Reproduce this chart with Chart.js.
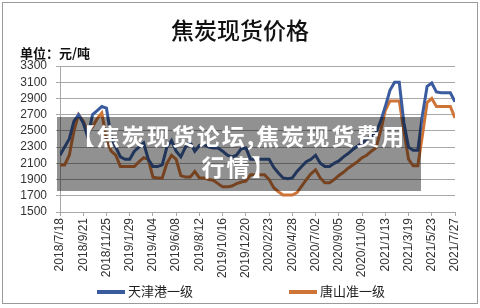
<!DOCTYPE html>
<html>
<head>
<meta charset="utf-8">
<script src="https://cdn.jsdelivr.net/npm/chart.js@4.4.1/dist/chart.umd.min.js"></script>
<style>
    html, body { margin: 0; padding: 0; background: #fff; }
    #wrap { position: relative; width: 480px; height: 308px; overflow: hidden; }
    #chart { position: absolute; left: 0; top: 0; }
    .frame { position: absolute; left: 2px; top: 2px; width: 474px; height: 300px; border: 1px solid #9a9a9a; pointer-events: none; }
    .title { position: absolute; left: 0; width: 480px; top: 12px; text-align: center; font: 500 23px "Noto Sans CJK SC"; color: #111; }
    .unit { position: absolute; left: 20px; top: 43px; font: 700 13px "Noto Sans CJK SC"; color: #111; }
    .legend { position: absolute; top: 281px; font: 13px "Noto Sans CJK SC"; color: #222; }
    .legend i { display: inline-block; width: 28px; height: 4px; vertical-align: middle; margin-right: 3px; }
    .mark { position: absolute; left: 57px; top: 117px; width: 364px; height: 74px; background: rgba(0, 0, 0, 0.43);
            color: #fff; font: 700 23px "Noto Sans CJK SC"; line-height: 31px; text-align: center; letter-spacing: 2px; padding-top: 3px; box-sizing: border-box; white-space: nowrap; }
</style>
</head>
<body>
<div id="wrap">
    <canvas id="chart" width="480" height="308"></canvas>
    <div class="title">焦炭现货价格</div>
    <div class="unit">单位：元/吨</div>
    <div class="mark">【焦炭现货论坛,焦炭现货费用<br>行情】</div>
    <div id="legend"></div>
    <div class="frame"></div>
</div>
<script>
// date labels on the x axis (one every 5 points)
const tickLabels = ['2018/7/18', '2018/9/21', '2018/11/25', '2019/1/29', '2019/4/04', '2019/6/08',
    '2019/8/12', '2019/10/16', '2019/12/20', '2020/2/23', '2020/4/28', '2020/7/02',
    '2020/9/05', '2020/11/09', '2021/1/13', '2021/3/19', '2021/5/23', '2021/7/27'];

const seriesNames = ['天津港一级', '唐山准一级'];
const seriesColors = ['#3a5c9e', '#cf7437'];

// 天津港一级 (yuan/ton)
const tianjin = [
    2200, 2300, 2400, 2620, 2700, 2600, 2420, 2700, 2750, 2800,
    2780, 2420, 2300, 2180, 2150, 2150, 2250, 2300, 2350, 2150,
    2060, 2060, 2080, 2300, 2380, 2250, 2180, 2300, 2360, 2250,
    2320, 2330, 2300, 2290, 2290, 2250, 2200, 2180, 2200, 2280,
    2290, 2150, 2150, 2150, 2150, 2150, 2050, 1980, 1920, 1910,
    1920, 2000, 2060, 2120, 2150, 2200, 2100, 2060, 2060, 2100,
    2130, 2180, 2220, 2270, 2310, 2350, 2400, 2430, 2480, 2620,
    2800, 3000, 3100, 3100, 2600, 2300, 2260, 2260, 2700, 3050,
    3090, 2980, 2970, 2970, 2970, 2860
];

// 唐山准一级
const tangshan = [
    2080, 2080, 2200, 2500, 2700, 2620, 2500, 2550, 2650, 2720,
    2400, 2250, 2200, 2060, 2060, 2060, 2060, 2120, 2170, 2150,
    1930, 1920, 1920, 2100, 2200, 2150, 1950, 1930, 1930, 2000,
    1920, 1920, 1900, 1890, 1850, 1810, 1810, 1820, 1850, 1870,
    1880, 1960, 1960, 1960, 1960, 1900, 1800, 1750, 1710, 1710,
    1710, 1740, 1820, 1900, 1970, 2020, 1920, 1860, 1860, 1900,
    1950, 1990, 2040, 2080, 2120, 2170, 2200, 2250, 2290, 2500,
    2750, 2870, 2870, 2870, 2500, 2150, 2070, 2070, 2450, 2850,
    2900, 2800, 2800, 2800, 2800, 2660
];

const yTicks = { min: 1500, max: 3300, step: 200 };

function toPoints(arr) {
    return arr.map((v, i) => ({ x: i, y: v }));
}

// html legend, the gap between the two items is too wide for chart.js legend padding
const legendEl = document.getElementById('legend');
seriesNames.forEach((name, i) => {
    const d = document.createElement('div');
    d.className = 'legend';
    d.style.left = (i === 0 ? 97 : 289) + 'px';
    d.innerHTML = '<i style="background:' + seriesColors[i] + '"></i>' + name;
    legendEl.appendChild(d);
});

const gridColor = '#a8a8a8';

new Chart(document.getElementById('chart').getContext('2d'), {
    type: 'line',
    data: {
        datasets: [
            { label: seriesNames[0], data: toPoints(tianjin), borderColor: seriesColors[0], borderWidth: 3, pointRadius: 0, tension: 0 },
            { label: seriesNames[1], data: toPoints(tangshan), borderColor: seriesColors[1], borderWidth: 3, pointRadius: 0, tension: 0 }
        ]
    },
    options: {
        responsive: false,
        animation: false,
        layout: { padding: { left: 0, right: 25, top: 66, bottom: 30 } },
        plugins: { legend: { display: false }, tooltip: { enabled: false } },
        scales: {
            x: {
                type: 'linear',
                min: 0,
                max: tianjin.length - 1,
                afterFit: s => { s.height = 66; },
                grid: { drawOnChartArea: false, color: gridColor, tickLength: 4 },
                border: { color: gridColor },
                ticks: {
                    stepSize: 5,
                    autoSkip: false,
                    maxRotation: 90,
                    minRotation: 90,
                    padding: 2,
                    color: '#333',
                    font: { family: 'Liberation Sans', size: 12 },
                    callback: v => tickLabels[v / 5]
                }
            },
            y: {
                min: yTicks.min,
                max: yTicks.max,
                afterFit: s => { s.width = 60; },
                grid: { color: gridColor, tickLength: 4 },
                border: { color: gridColor },
                ticks: {
                    stepSize: yTicks.step,
                    autoSkip: false,
                    padding: 9,
                    color: '#333',
                    font: { family: 'Liberation Sans', size: 12 },
                    callback: v => String(v)
                }
            }
        }
    }
});
</script>
</body>
</html>
